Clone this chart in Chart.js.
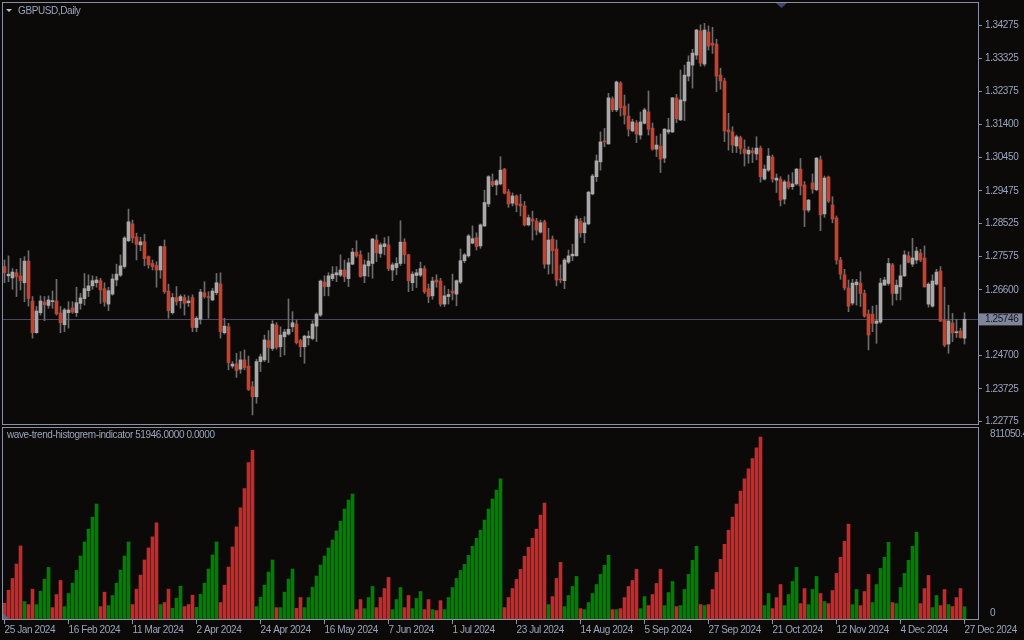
<!DOCTYPE html>
<html>
<head>
<meta charset="utf-8">
<script src="https://cdn.jsdelivr.net/npm/chart.js@4.4.1/dist/chart.umd.min.js"></script>
<style>
  html, body { margin: 0; padding: 0; background: #0c0a09; }
  #wrap { position: relative; width: 1024px; height: 640px; overflow: hidden; background: #0c0a09; }
  canvas { position: absolute; left: 0; }
  #priceChart { top: 0; }
  #histChart { top: 426px; }
  .lbl { position: absolute; font: 10px 'Liberation Sans', Arial, sans-serif; letter-spacing: -0.4px; color: #9aa4bb; line-height: 12px; white-space: nowrap; }
</style>
</head>
<body>
<div id="wrap">
  <canvas id="priceChart" width="1024" height="426"></canvas>
  <canvas id="histChart" width="1024" height="214"></canvas>
  <div class="lbl" id="symbolLabel" style="left:18px; top:5px;"></div>
  <div class="lbl" id="indLabel" style="left:7px; top:429px;"></div>
</div>
<script>
// GBPUSD daily, 25 Jan 2024 .. 27 Dec 2024 (241 bars)
const opens = [
  1.2728,1.2701,1.2695,1.2710,1.2701,1.2681,1.2744,1.2628,1.2536,1.2594,
  1.2625,1.2615,1.2626,1.2628,1.2593,1.2559,1.2594,1.2608,1.2594,1.2621,
  1.2635,1.2658,1.2672,1.2681,1.2687,1.2664,1.2619,1.2648,1.2689,1.2703,
  1.2728,1.2803,1.2852,1.2814,1.2791,1.2800,1.2757,1.2737,1.2731,1.2718,
  1.2786,1.2657,1.2594,1.2638,1.2629,1.2638,1.2623,1.2638,1.2551,1.2575,
  1.2652,1.2641,1.2631,1.2652,1.2678,1.2536,1.2553,1.2439,1.2445,1.2430,
  1.2457,1.2439,1.2379,1.2350,1.2452,1.2457,1.2513,1.2490,1.2558,1.2495,
  1.2524,1.2532,1.2553,1.2561,1.2513,1.2495,1.2521,1.2519,1.2555,1.2587,
  1.2683,1.2670,1.2693,1.2704,1.2703,1.2718,1.2693,1.2735,1.2770,1.2762,
  1.2701,1.2730,1.2737,1.2805,1.2766,1.2786,1.2791,1.2718,1.2725,1.2737,
  1.2799,1.2762,1.2681,1.2702,1.2703,1.2722,1.2664,1.2643,1.2689,1.2686,
  1.2619,1.2641,1.2657,1.2648,1.2683,1.2745,1.2759,1.2796,1.2812,1.2788,
  1.2846,1.2910,1.2975,1.2965,1.2968,1.3011,1.2945,1.2912,1.2933,1.2910,
  1.2904,1.2849,1.2866,1.2860,1.2828,1.2858,1.2735,1.2808,1.2779,1.2692,
  1.2687,1.2741,1.2759,1.2759,1.2860,1.2826,1.2852,1.2939,1.2989,1.3032,
  1.3093,1.3084,1.3215,1.3183,1.3261,1.3194,1.3165,1.3122,1.3145,1.3110,
  1.3144,1.3177,1.3130,1.3069,1.3078,1.3043,1.3119,1.3119,1.3218,1.3154,
  1.3209,1.3281,1.3313,1.3342,1.3412,1.3316,1.3409,1.3377,1.3374,1.3284,
  1.3267,1.3125,1.3119,1.3078,1.3102,1.3069,1.3055,1.3064,1.3055,1.3072,
  1.2982,1.3008,1.3046,1.2979,1.2982,1.2924,1.2974,1.2960,1.2968,1.3011,
  1.2965,1.2892,1.2971,1.2951,1.3038,1.2881,1.2988,1.2907,1.2869,1.2747,
  1.2704,1.2666,1.2622,1.2675,1.2680,1.2650,1.2590,1.2590,1.2563,1.2567,
  1.2674,1.2679,1.2733,1.2650,1.2669,1.2701,1.2759,1.2735,1.2747,1.2767,
  1.2753,1.2619,1.2613,1.2677,1.2715,1.2573,1.2503,1.2564,1.2536,1.2541,
  1.2520
];
const highs = [
  1.2747,1.2759,1.2722,1.2720,1.2752,1.2757,1.2774,1.2641,1.2612,1.2643,
  1.2641,1.2643,1.2657,1.2691,1.2612,1.2607,1.2626,1.2626,1.2668,1.2650,
  1.2708,1.2704,1.2701,1.2699,1.2694,1.2681,1.2668,1.2706,1.2735,1.2762,
  1.2815,1.2895,1.2863,1.2825,1.2813,1.2822,1.2759,1.2747,1.2742,1.2788,
  1.2805,1.2677,1.2650,1.2670,1.2646,1.2646,1.2643,1.2646,1.2583,1.2662,
  1.2684,1.2655,1.2665,1.2708,1.2710,1.2578,1.2563,1.2452,1.2476,1.2481,
  1.2486,1.2468,1.2394,1.2459,1.2474,1.2529,1.2542,1.2571,1.2565,1.2553,
  1.2546,1.2634,1.2597,1.2573,1.2517,1.2529,1.2541,1.2571,1.2594,1.2689,
  1.2701,1.2710,1.2728,1.2728,1.2762,1.2747,1.2752,1.2781,1.2803,1.2774,
  1.2747,1.2768,1.2810,1.2820,1.2797,1.2812,1.2815,1.2739,1.2754,1.2861,
  1.2809,1.2764,1.2713,1.2720,1.2741,1.2730,1.2677,1.2697,1.2704,1.2694,
  1.2672,1.2662,1.2706,1.2689,1.2779,1.2766,1.2821,1.2846,1.2826,1.2852,
  1.2950,1.2992,1.2997,1.2981,1.3047,1.3013,1.2952,1.2942,1.2936,1.2938,
  1.2917,1.2878,1.2889,1.2868,1.2863,1.2863,1.2839,1.2817,1.2805,1.2733,
  1.2752,1.2776,1.2793,1.2875,1.2868,1.2873,1.2947,1.2996,1.3052,1.3119,
  1.3129,1.3231,1.3221,1.3267,1.3265,1.3226,1.3200,1.3156,1.3152,1.3177,
  1.3188,1.3238,1.3145,1.3107,1.3113,1.3129,1.3159,1.3219,1.3228,1.3299,
  1.3313,1.3340,1.3359,1.3417,1.3430,1.3434,1.3427,1.3423,1.3388,1.3304,
  1.3275,1.3173,1.3134,1.3110,1.3107,1.3096,1.3076,1.3073,1.3105,1.3078,
  1.3023,1.3071,1.3052,1.2997,1.2989,1.2979,1.2994,1.3001,1.3013,1.3042,
  1.2975,1.2923,1.2997,1.3045,1.3049,1.2991,1.2991,1.2931,1.2875,1.2755,
  1.2720,1.2689,1.2691,1.2691,1.2713,1.2660,1.2602,1.2613,1.2616,1.2694,
  1.2697,1.2752,1.2737,1.2689,1.2733,1.2774,1.2771,1.2810,1.2784,1.2778,
  1.2788,1.2681,1.2704,1.2720,1.2728,1.2668,1.2616,1.2592,1.2575,1.2549,
  1.2594
];
const lows = [
  1.2681,1.2684,1.2662,1.2641,1.2660,1.2626,1.2613,1.2520,1.2534,1.2587,
  1.2571,1.2607,1.2607,1.2587,1.2536,1.2539,1.2549,1.2592,1.2583,1.2604,
  1.2616,1.2641,1.2662,1.2668,1.2621,1.2613,1.2600,1.2645,1.2672,1.2699,
  1.2723,1.2800,1.2797,1.2747,1.2774,1.2730,1.2723,1.2718,1.2668,1.2694,
  1.2650,1.2578,1.2590,1.2616,1.2607,1.2587,1.2612,1.2539,1.2539,1.2561,
  1.2636,1.2578,1.2629,1.2646,1.2520,1.2532,1.2428,1.2433,1.2406,1.2418,
  1.2428,1.2368,1.2297,1.2331,1.2423,1.2452,1.2449,1.2484,1.2488,1.2466,
  1.2471,1.2529,1.2539,1.2503,1.2466,1.2447,1.2500,1.2515,1.2510,1.2583,
  1.2643,1.2643,1.2687,1.2684,1.2699,1.2684,1.2670,1.2733,1.2755,1.2697,
  1.2681,1.2699,1.2694,1.2742,1.2755,1.2762,1.2716,1.2687,1.2704,1.2731,
  1.2737,1.2655,1.2658,1.2667,1.2699,1.2650,1.2623,1.2633,1.2668,1.2613,
  1.2612,1.2619,1.2631,1.2614,1.2679,1.2739,1.2755,1.2794,1.2776,1.2781,
  1.2844,1.2902,1.2960,1.2936,1.2965,1.2939,1.2900,1.2904,1.2887,1.2875,
  1.2846,1.2846,1.2805,1.2820,1.2825,1.2723,1.2706,1.2708,1.2672,1.2681,
  1.2664,1.2737,1.2745,1.2759,1.2813,1.2797,1.2849,1.2936,1.2975,1.3008,
  1.3076,1.3084,1.3178,1.3178,1.3165,1.3142,1.3107,1.3119,1.3088,1.3098,
  1.3142,1.3110,1.3066,1.3047,1.3001,1.3030,1.3113,1.3117,1.3146,1.3152,
  1.3152,1.3267,1.3246,1.3330,1.3310,1.3310,1.3357,1.3347,1.3236,1.3243,
  1.3091,1.3066,1.3059,1.3059,1.3055,1.3020,1.3028,1.3030,1.3038,1.2973,
  1.2979,1.3004,1.2973,1.2943,1.2904,1.2910,1.2953,1.2952,1.2964,1.2936,
  1.2844,1.2886,1.2941,1.2948,1.2832,1.2871,1.2914,1.2855,1.2735,1.2691,
  1.2660,1.2597,1.2616,1.2616,1.2612,1.2581,1.2486,1.2539,1.2505,1.2563,
  1.2674,1.2674,1.2616,1.2631,1.2631,1.2699,1.2739,1.2728,1.2737,1.2742,
  1.2668,1.2610,1.2610,1.2674,1.2568,1.2495,1.2476,1.2510,1.2522,1.2520,
  1.2503
];
const closes = [
  1.2710,1.2706,1.2712,1.2699,1.2687,1.2744,1.2635,1.2536,1.2599,1.2628,
  1.2617,1.2631,1.2628,1.2591,1.2565,1.2602,1.2602,1.2596,1.2623,1.2637,
  1.2664,1.2672,1.2687,1.2689,1.2660,1.2625,1.2658,1.2692,1.2706,1.2730,
  1.2811,1.2858,1.2811,1.2792,1.2800,1.2751,1.2733,1.2728,1.2718,1.2786,
  1.2655,1.2600,1.2638,1.2626,1.2641,1.2621,1.2628,1.2551,1.2578,1.2654,
  1.2641,1.2638,1.2657,1.2681,1.2539,1.2555,1.2449,1.2445,1.2426,1.2457,
  1.2434,1.2371,1.2350,1.2452,1.2466,1.2515,1.2493,1.2561,1.2493,1.2529,
  1.2538,1.2546,1.2565,1.2507,1.2495,1.2526,1.2526,1.2561,1.2590,1.2686,
  1.2670,1.2701,1.2706,1.2710,1.2718,1.2699,1.2739,1.2770,1.2759,1.2699,
  1.2733,1.2744,1.2808,1.2768,1.2791,1.2794,1.2722,1.2733,1.2737,1.2799,
  1.2762,1.2687,1.2706,1.2710,1.2722,1.2655,1.2641,1.2686,1.2683,1.2619,
  1.2643,1.2647,1.2651,1.2687,1.2745,1.2762,1.2817,1.2809,1.2786,1.2849,
  1.2914,1.2989,1.2965,1.2977,1.3008,1.2941,1.2910,1.2933,1.2907,1.2904,
  1.2849,1.2870,1.2860,1.2834,1.2855,1.2735,1.2805,1.2774,1.2689,1.2689,
  1.2747,1.2759,1.2764,1.2866,1.2826,1.2855,1.2944,1.2991,1.3035,1.3090,
  1.3090,1.3218,1.3183,1.3264,1.3189,1.3168,1.3127,1.3148,1.3113,1.3148,
  1.3183,1.3127,1.3069,1.3081,1.3040,1.3127,1.3125,1.3218,1.3157,1.3212,
  1.3284,1.3322,1.3348,1.3415,1.3319,1.3415,1.3368,1.3371,1.3281,1.3267,
  1.3122,1.3119,1.3081,1.3105,1.3071,1.3057,1.3066,1.3059,1.3072,1.2989,
  1.3011,1.3049,1.2982,1.2985,1.2921,1.2974,1.2958,1.2968,1.3011,1.2962,
  1.2892,1.2921,1.2953,1.3043,1.2878,1.2985,1.2918,1.2866,1.2747,1.2706,
  1.2666,1.2613,1.2680,1.2683,1.2650,1.2584,1.2529,1.2563,1.2570,1.2680,
  1.2689,1.2737,1.2650,1.2674,1.2701,1.2762,1.2741,1.2753,1.2773,1.2747,
  1.2669,1.2677,1.2686,1.2712,1.2570,1.2500,1.2570,1.2535,1.2538,1.2522,
  1.2575
];

// wave-trend histogram values and colour (1 = green, 0 = red)
const histValues = [
  66500,121700,171300,232100,308600,73600,60900,126000,60900,117500,
  168400,218000,48100,103300,162800,52400,107600,151400,205200,266100,
  325500,379300,430300,485500,52400,113200,56600,99100,151400,206600,
  266100,325500,60900,126000,185400,249100,300100,346800,406200,60900,
  69400,126000,45300,87800,138700,52400,60900,100500,49500,104700,
  151400,210900,270300,325500,69400,143000,219400,304300,389200,469900,
  550600,661000,712000,52400,92000,143000,198200,249100,48100,48100,
  113200,168400,210900,45300,90600,48100,90600,134500,181200,227900,
  266100,300100,334000,372300,413300,464300,502500,527900,39600,82100,
  43900,90600,137300,48100,90600,128800,175500,39600,82100,133000,
  48100,99100,43900,86300,116100,39600,82100,39600,35400,77800,
  39600,90600,133000,171300,205200,230700,268900,307100,341100,375100,
  417500,464300,506700,544900,591600,48100,90600,128800,167000,209500,
  264700,302900,341100,379300,438800,489700,60900,94800,171300,239200,
  52400,99100,137300,179800,43900,39600,69400,107600,145800,188300,
  226500,268900,39600,39600,43900,90600,137300,162800,209500,43900,
  94800,56600,103300,150000,209500,56600,111800,158500,52400,56600,
  124600,188300,247700,307100,60900,56600,60900,124600,196700,251900,
  315600,375100,430300,485500,540700,591600,634100,678000,723300,768600,
  56600,107600,43900,90600,145800,56600,103300,158500,218000,65100,
  128800,60900,124600,179800,107600,73600,65100,120300,192500,260400,
  328400,400600,60900,124600,56600,116100,188300,69400,145800,213700,
  260400,324100,69400,65100,133000,192500,247700,307100,366600,65100,
  128800,184000,48100,99100,56600,124600,60900,52400,90600,128800,
  51946
];
const histUp = [
  0,0,0,0,0,1,0,0,1,1, 1,1,0,0,0,1,1,1,1,1, 1,1,1,1,0,0,1,1,1,1,
  1,1,0,0,0,0,0,0,0,1, 0,0,1,1,1,0,0,0,1,1, 1,1,1,1,0,0,0,0,0,0,
  0,0,0,1,1,1,1,1,0,1, 1,1,1,0,0,1,1,1,1,1, 1,1,1,1,1,1,1,1,0,0,
  1,1,1,0,0,0,0,1,1,1, 0,0,1,1,1,0,0,1,0,0, 1,1,1,1,1,1,1,1,1,1,
  1,1,1,1,1,0,0,0,0,0, 0,0,0,0,0,0,1,0,0,0, 1,1,1,1,0,1,1,1,1,1,
  1,1,0,1,0,0,0,0,0,1, 1,0,0,0,0,1,1,1,0,1, 1,1,1,1,0,1,0,0,0,0,
  0,0,0,0,0,0,0,0,0,0, 1,1,0,0,0,1,1,1,1,0, 0,1,1,1,0,1,0,0,0,0,
  0,0,1,1,0,0,0,1,1,1, 1,1,0,1,1,1,1,1,1,0, 0,0,1,1,0,0,1,0,0,0,
  1
];

const dateLabels = ['25 Jan 2024','16 Feb 2024','11 Mar 2024','2 Apr 2024','24 Apr 2024','16 May 2024',
  '7 Jun 2024','1 Jul 2024','23 Jul 2024','14 Aug 2024','5 Sep 2024','27 Sep 2024',
  '21 Oct 2024','12 Nov 2024','4 Dec 2024','27 Dec 2024'];
const barsPerLabel = 16;
const priceTicks = [1.34275,1.33325,1.32375,1.31400,1.30450,1.29475,1.28525,1.27575,1.26600,1.25650,1.24700,1.23725,1.22775];
const lastPrice = 1.25746;
const priceMin = 1.22708, priceMax = 1.34963;
const histMax = 811050.45;
const histTickLabels = ['811050.45', '0'];
const symbolName = 'GBPUSD,Daily';
const indicatorName = 'wave-trend-histogrem-indicator';

// colours
const FRAME = '#8a8fa2', TXT = '#9aa4bb';
const BULL = '#a9a9a9', BEAR = '#c7412d', WICK = '#6c6c6c';
const UP = '#008000', DOWN = '#c42a2a', PRICE_LINE = '#46495e';
const FONT = { family: "'Liberation Sans', Arial, sans-serif", size: 10 };
const LETTER_SPACING = '-0.4px';

const xMin = -0.625, xMax = 243.375;   // 4 px per bar, a few empty bars of shift on the right
const idx = closes.map((_, i) => i);

document.getElementById('symbolLabel').textContent = symbolName;
document.getElementById('indLabel').textContent =
  indicatorName + ' ' + histValues[histValues.length - 1].toFixed(4) + ' 0.0000';

// MT4 text is narrower than anything installed, so tighten the canvas letter spacing
const narrowText = {
  id: 'narrowText',
  beforeUpdate(chart) { chart.ctx.letterSpacing = LETTER_SPACING; },
  beforeDraw(chart) { chart.ctx.letterSpacing = LETTER_SPACING; }
};

// frame round the plot area plus the little MT4 markers
const framePlugin = {
  id: 'frame',
  afterDraw(chart, args, opts) {
    const { ctx, chartArea: a } = chart;
    ctx.save();
    ctx.strokeStyle = FRAME;
    ctx.lineWidth = 1;
    ctx.strokeRect(Math.round(a.left) + 0.5, Math.round(a.top) + 0.5,
      Math.round(a.right - a.left), Math.round(a.bottom - a.top));
    if (opts.mainMarks) {
      ctx.fillStyle = '#c4c4c4';
      ctx.beginPath(); ctx.moveTo(6, 9); ctx.lineTo(12, 9); ctx.lineTo(9, 12); ctx.fill();
      ctx.fillStyle = '#3e4470';
      ctx.beginPath(); ctx.moveTo(776, 3); ctx.lineTo(787, 3); ctx.lineTo(781.5, 8); ctx.fill();
    }
    if (opts.histMarks) {
      ctx.fillStyle = '#5d6588';
      ctx.beginPath(); ctx.moveTo(3, 187); ctx.lineTo(3, 193); ctx.lineTo(9, 193); ctx.fill();
    }
    ctx.restore();
  }
};

const noPad = s => { s.paddingTop = 0; s.paddingBottom = 0; s.paddingLeft = 0; s.paddingRight = 0; };

new Chart(document.getElementById('priceChart'), {
  type: 'bar',
  data: {
    datasets: [
      {
        label: 'wick',
        data: idx.map(i => ({ x: i, y: [lows[i], highs[i]] })),
        backgroundColor: WICK,
        barThickness: 1,
        grouped: false,
        order: 2
      },
      {
        label: 'body',
        data: idx.map(i => ({ x: i, y: [opens[i], closes[i]] })),
        backgroundColor: ctx => closes[ctx.dataIndex] >= opens[ctx.dataIndex] ? BULL : BEAR,
        barThickness: 3,
        minBarLength: 1,
        grouped: false,
        order: 1
      }
    ]
  },
  options: {
    responsive: false,
    animation: false,
    layout: { padding: { left: 2, top: 2, right: 0, bottom: 2 } },
    plugins: { legend: { display: false }, tooltip: { enabled: false }, frame: { mainMarks: true } },
    scales: {
      x: { type: 'linear', min: xMin, max: xMax, offset: false, display: false },
      y: {
        position: 'right',
        min: priceMin,
        max: priceMax,
        afterBuildTicks: s => { s.ticks = priceTicks.concat([lastPrice]).map(v => ({ value: v })); },
        afterFit: s => { s.width = 46; noPad(s); },
        border: { display: false },
        grid: {
          color: ctx => (ctx.tick && ctx.tick.value === lastPrice) ? PRICE_LINE : 'rgba(0,0,0,0)',
          tickColor: FRAME,
          tickLength: 4
        },
        ticks: {
          autoSkip: false,
          padding: 3,
          font: FONT,
          color: ctx => ctx.tick.value === lastPrice ? '#141826' : TXT,
          callback: v => v.toFixed(5),
          showLabelBackdrop: ctx => ctx.tick.value === lastPrice,
          backdropColor: '#7f8699',
          backdropPadding: { left: 6, right: 4, top: 0, bottom: 0 }
        }
      }
    }
  },
  plugins: [narrowText, framePlugin]
});

new Chart(document.getElementById('histChart'), {
  type: 'bar',
  data: {
    datasets: [{
      label: indicatorName,
      data: idx.map(i => ({ x: i, y: histValues[i] })),
      backgroundColor: ctx => histUp[ctx.dataIndex] ? UP : DOWN,
      barThickness: 3
    }]
  },
  options: {
    responsive: false,
    animation: false,
    layout: { padding: { left: 2, top: 1, right: 0, bottom: 0 } },
    plugins: { legend: { display: false }, tooltip: { enabled: false }, frame: { histMarks: true } },
    scales: {
      x: {
        type: 'linear',
        min: xMin,
        max: xMax,
        offset: false,
        afterBuildTicks: s => { s.ticks = dateLabels.map((_, k) => ({ value: k * barsPerLabel })); },
        afterFit: s => { s.height = 21; noPad(s); },
        border: { display: false },
        grid: { drawOnChartArea: false, offset: false, tickColor: FRAME, tickLength: 5 },
        ticks: {
          autoSkip: false,
          maxRotation: 0,
          align: 'start',
          padding: 0,
          font: FONT,
          color: TXT,
          callback: (v, k) => dateLabels[k]
        }
      },
      y: {
        position: 'right',
        min: 0,
        max: histMax,
        // MT4 keeps the two scale labels just inside the panel
        afterBuildTicks: s => { s.ticks = [{ value: histMax * (1 - 7 / 192) }, { value: histMax * 6 / 192 }]; },
        afterFit: s => { s.width = 46; noPad(s); },
        border: { display: false },
        grid: { display: false },
        ticks: {
          autoSkip: false,
          padding: 4,
          font: FONT,
          color: TXT,
          callback: (v, k) => histTickLabels[k]
        }
      }
    }
  },
  plugins: [narrowText, framePlugin]
});
</script>
</body>
</html>
